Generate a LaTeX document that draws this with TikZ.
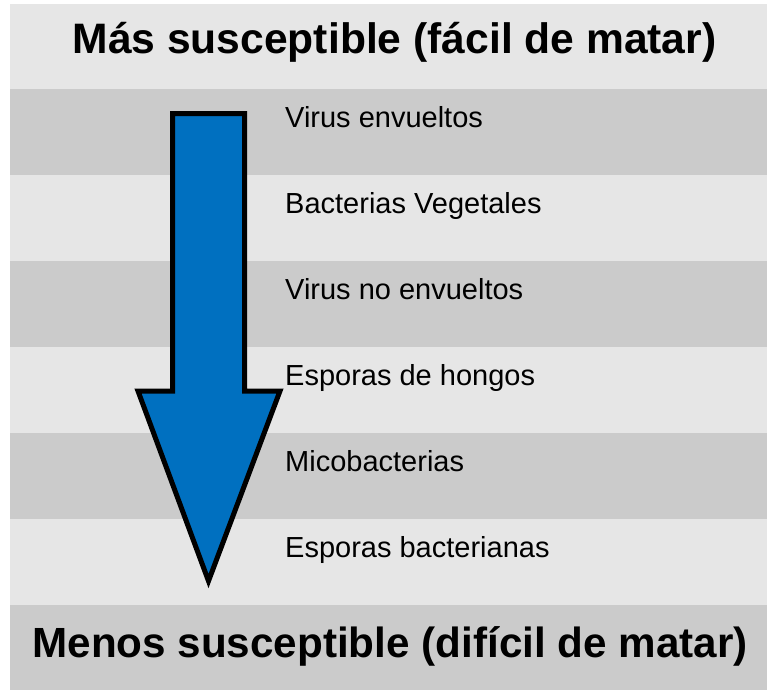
\documentclass[tikz,border=0pt]{standalone}
\usepackage{fontspec}
\setmainfont{Liberation Sans}
\definecolor{bandlight}{HTML}{E6E6E6}
\definecolor{banddark}{HTML}{CBCBCB}
\definecolor{arrowblue}{HTML}{0070C0}
\begin{document}
\begin{tikzpicture}[x=1pt,y=-1pt,
  light/.style={fill=bandlight,draw=none},
  dark/.style={fill=banddark,draw=none},
  item/.style={anchor=base west,inner sep=0pt,font=\fontsize{29}{34}\selectfont},
  title/.style={anchor=base,inner sep=0pt,font=\fontsize{42.6}{50}\selectfont\bfseries},
  btitle/.style={anchor=base,inner sep=0pt,font=\fontsize{42.2}{50}\selectfont\bfseries},
  bigarrow/.style={fill=arrowblue,draw=black,line width=5pt,line join=miter}]
\useasboundingbox[fill=white] (0,0) rectangle (767,690);
% bands
\fill[light] (10,4) rectangle (767,89);
\fill[dark] (10,89) rectangle (767,175);
\fill[light] (10,175) rectangle (767,261);
\fill[dark] (10,261) rectangle (767,347);
\fill[light] (10,347) rectangle (767,433);
\fill[dark] (10,433) rectangle (767,519);
\fill[light] (10,519) rectangle (767,605);
\fill[dark] (10,605) rectangle (767,690);
% arrow
\draw[bigarrow] (172.5,113.5) -- (244.5,113.5) -- (244.5,391) -- (280,391)
  -- (208.5,581) -- (138,391) -- (172.5,391) -- cycle;
% titles
\node[title] (top) at (394.5,54) {Más susceptible (fácil de matar)};
\node[btitle] (bottom) at (390,657) {Menos susceptible (difícil de matar)};
% items
\node[item] (i1) at (285,127) {Virus envueltos};
\node[item] (i2) at (285,213) {Bacterias Vegetales};
\node[item] (i3) at (285,299) {Virus no envueltos};
\node[item] (i4) at (285,385) {Esporas de hongos};
\node[item] (i5) at (285,471) {Micobacterias};
\node[item] (i6) at (285,557) {Esporas bacterianas};
\end{tikzpicture}
\end{document}
